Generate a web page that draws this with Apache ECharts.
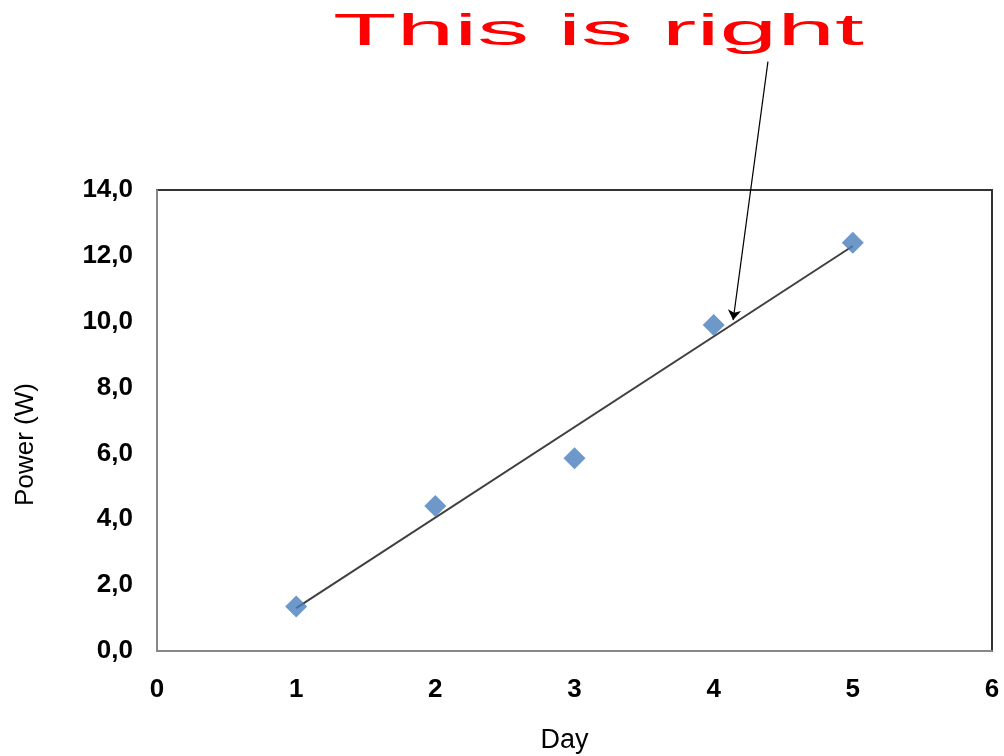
<!DOCTYPE html>
<html>
<head>
<meta charset="utf-8">
<script src="https://cdn.jsdelivr.net/npm/echarts@6/dist/echarts.min.js"></script>
<style>
  html, body { margin: 0; padding: 0; background: #fff; }
  #chart { width: 1004px; height: 756px; }
</style>
</head>
<body>
<div id="chart"></div>
<script>
  // values
  var days = [1, 2, 3, 4, 5];
  var power = [1.35, 4.4, 5.85, 9.9, 12.4];
  var trendDays = [1, 5];
  var trendPower = [1.3, 12.3];
  var arrowFrom = [4.39, 17.9];
  var arrowTo = [4.14, 10.05];
  var titleText = 'This is right';

  var points = days.map(function (d, i) { return [d, power[i]]; });
  var trend = trendDays.map(function (d, i) { return [d, trendPower[i]]; });

  var labelStyle = {
    color: '#000',
    fontFamily: 'Liberation Sans',
    fontWeight: 'bold',
    fontSize: 26
  };

  var chart = echarts.init(document.getElementById('chart'));
  chart.setOption({
    animation: false,
    grid: {
      left: 157, right: 12, top: 190, bottom: 105,
      outerBoundsMode: 'none',
      show: true,
      borderColor: '#333',
      borderWidth: 2
    },
    graphic: [
      {
        type: 'text',
        x: 333,
        y: 11,
        scaleX: 2.36,
        style: {
          text: titleText,
          fill: '#ff0000',
          font: '44px "Liberation Sans"'
        }
      }
    ],
    xAxis: {
      type: 'value',
      min: 0,
      max: 6,
      interval: 1,
      name: 'Day',
      nameLocation: 'middle',
      nameGap: 76,
      nameTextStyle: {color: '#000', fontFamily: 'Liberation Sans', fontSize: 27, padding: [0, 20, 0, 0]},
      splitLine: {show: false},
      axisTick: {show: false},
      axisLine: {lineStyle: {color: '#888', width: 2}},
      axisLabel: Object.assign({margin: 26}, labelStyle)
    },
    yAxis: {
      type: 'value',
      min: 0,
      max: 14,
      interval: 2,
      name: 'Power (W)',
      nameLocation: 'middle',
      nameGap: 118,
      nameTextStyle: {color: '#000', fontFamily: 'Liberation Sans', fontSize: 26, padding: [0, 48, 0, 0]},
      splitLine: {show: false},
      axisTick: {show: false},
      axisLine: {show: true, lineStyle: {color: '#888', width: 2}},
      axisLabel: Object.assign({
        margin: 24,
        formatter: function (v) { return v.toFixed(1).replace('.', ','); }
      }, labelStyle)
    },
    series: [
      {
        name: 'trend',
        type: 'line',
        data: trend,
        symbol: 'none',
        lineStyle: {color: '#404040', width: 2},
        z: 2
      },
      {
        name: 'Power',
        type: 'scatter',
        data: points,
        symbol: 'diamond',
        symbolSize: [22, 22],
        itemStyle: {color: '#4a7ebb'},
        z: 3
      },
      {
        name: 'arrow',
        type: 'lines',
        coordinateSystem: 'cartesian2d',
        clip: false,
        symbol: ['none', 'arrow'],
        symbolSize: 10,
        lineStyle: {color: '#000', width: 1.2, opacity: 1},
        data: [{coords: [arrowFrom, arrowTo]}],
        z: 4
      }
    ]
  });
</script>
</body>
</html>
